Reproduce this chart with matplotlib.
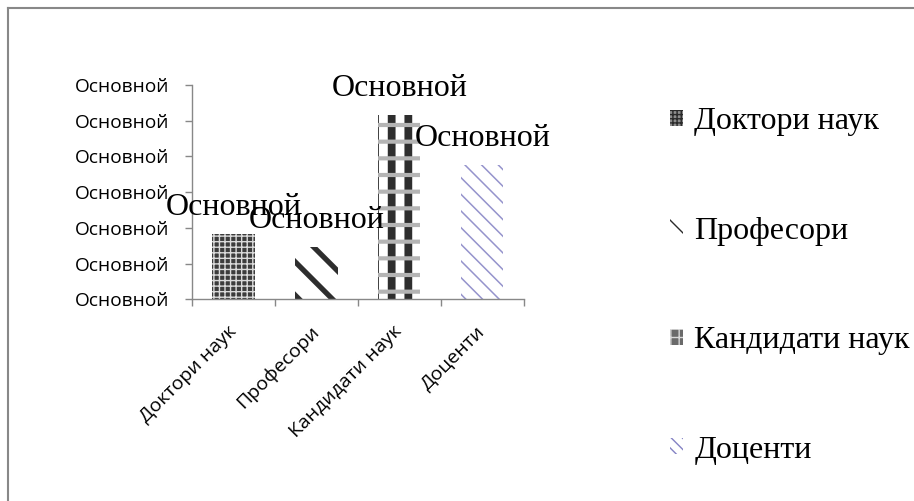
import matplotlib.pyplot as plt
from matplotlib.lines import Line2D
from matplotlib.patches import Patch

categories = ["Доктори наук", "Професори", "Кандидати наук", "Доценти"]
values = [18.3, 14.7, 51.6, 37.6]
y_ticks = [0, 10, 20, 30, 40, 50, 60]
tick_text = "Основной"

faces = ["#3c3c3c", "white", "white", "white"]
hatches = ["+++", "\\", "|", "\\\\"]
hatch_colors = ["#dadada", "#2e2e2e", "#2e2e2e", "#9593cc"]
hatch_widths = [1.0, 3.8, 5.6, 1.1]

sans = "Open Sans"
serif = "Liberation Serif"


def set_hw(patches, w):
    for p in patches:
        if hasattr(p, "set_hatch_linewidth"):
            p.set_hatch_linewidth(w)


fig = plt.figure(figsize=(9.14, 5.01), dpi=100)
ax = fig.add_axes([0.210, 0.4026, 0.363, 0.4277])

x = list(range(len(categories)))
for i in x:
    with plt.rc_context({"hatch.linewidth": hatch_widths[i]}):
        bars = ax.bar(x[i], values[i], width=0.51, color=faces[i],
                      edgecolor=hatch_colors[i], linewidth=0, hatch=hatches[i])
    set_hw(bars, hatch_widths[i])
    if i == 2:
        # dotted horizontal bands across the checked bar
        with plt.rc_context({"hatch.linewidth": 3.0}):
            over = ax.bar(x[i], values[i], width=0.51, color="none",
                          edgecolor="#b4b4b4", linewidth=0, hatch="-")
        set_hw(over, 3.0)

for i, v in enumerate(values):
    ax.annotate(tick_text, (x[i], v), xytext=(0, 19), textcoords="offset points",
                ha="center", va="center", fontsize=23, family=serif, color="black")

ax.set_xlim(-0.5, len(categories) - 0.5)
ax.set_ylim(0, 60)
ax.set_yticks(y_ticks)
ax.set_yticklabels([tick_text] * len(y_ticks), fontsize=13.8, family=sans)
ax.tick_params(axis="y", length=5, width=1, color="#888888", pad=11)

ax.set_xticks(x)
ax.set_xticklabels(categories, rotation=45, ha="right", va="center",
                   rotation_mode="anchor", fontsize=14, family=sans)
ax.set_xticks([-0.5, 0.5, 1.5, 2.5, 3.5], minor=True)
ax.tick_params(axis="x", which="major", length=0, pad=21)
ax.tick_params(axis="x", which="minor", length=5, width=1, color="#888888")

for s in ["top", "right"]:
    ax.spines[s].set_visible(False)
for s in ["left", "bottom"]:
    ax.spines[s].set_color("#888888")
    ax.spines[s].set_linewidth(1)

# small legend keys that read like the bar fills
key_faces = ["#8c8c8c", "white", "#6a6a6a", "white"]
key_hatch = ["++++", "\\\\", "++", "\\\\\\"]
key_colors = ["#2a2a2a", "#2a2a2a", "#d8d8d8", "#8482c4"]
handles = []
for i in x:
    with plt.rc_context({"hatch.linewidth": 1.2}):
        h = Patch(facecolor=key_faces[i], edgecolor=key_colors[i], linewidth=0,
                  hatch=key_hatch[i], label=categories[i])
    set_hw([h], 1.2)
    handles.append(h)

leg = ax.legend(handles=handles, loc="upper left", bbox_to_anchor=(1.403, 0.957),
                frameon=False, prop={"family": serif, "size": 23},
                handlelength=0.4, handleheight=0.4, handletextpad=0.35,
                labelspacing=2.52, borderaxespad=0)

# chart area border
fig.add_artist(Line2D([0.009, 1.0], [0.984, 0.984], color="#888888", lw=1.5,
                      transform=fig.transFigure))
fig.add_artist(Line2D([0.009, 0.009], [0.0, 0.984], color="#888888", lw=1.5,
                      transform=fig.transFigure))

fig.savefig("out.png", dpi=100)
